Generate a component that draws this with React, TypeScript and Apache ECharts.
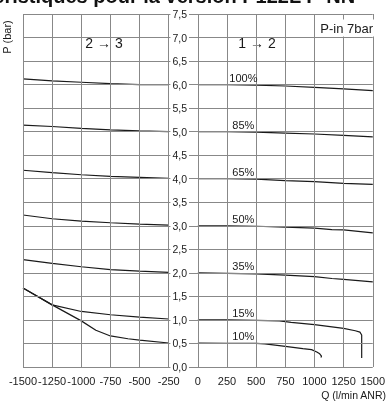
import { useEffect, useRef } from "react";
import * as echarts from "echarts";

const FONT = "'Liberation Sans', Arial, Helvetica, sans-serif";

// Tick positions of the two axes
const qTicks = [-1500, -1250, -1000, -750, -500, -250, 0, 250, 500, 750, 1000, 1250, 1500];
const pTicks = [0, 0.5, 1, 1.5, 2, 2.5, 3, 3.5, 4, 4.5, 5, 5.5, 6, 6.5, 7, 7.5];

// Opening levels of the regulator
const levels = ["100%", "85%", "65%", "50%", "35%", "15%", "10%"];

// Port 2→3 (exhaust side), Q in l/min ANR (negative), P in bar
const exhaust100 = [[-1500, 6.12], [-1250, 6.08], [-1000, 6.05], [-750, 6.02], [-500, 6.0], [-250, 6.0]];
const exhaust85 = [[-1500, 5.14], [-1250, 5.11], [-1000, 5.07], [-750, 5.04], [-500, 5.015], [-250, 5.0]];
const exhaust65 = [[-1500, 4.18], [-1250, 4.13], [-1000, 4.085], [-750, 4.05], [-500, 4.03], [-250, 4.01]];
const exhaust50 = [[-1500, 3.23], [-1250, 3.15], [-1000, 3.1], [-750, 3.065], [-500, 3.035], [-250, 3.015]];
const exhaust35 = [[-1500, 2.28], [-1250, 2.2], [-1000, 2.13], [-750, 2.07], [-500, 2.035], [-250, 2.01]];
const exhaust15 = [[-1500, 1.68], [-1250, 1.32], [-1000, 1.18], [-750, 1.11], [-500, 1.06], [-250, 1.02]];
const exhaust10 = [[-1500, 1.68], [-1250, 1.32], [-1000, 0.98], [-875, 0.78], [-750, 0.66], [-600, 0.6], [-500, 0.57], [-250, 0.51]];

// Port 1→2 (supply side), Q in l/min ANR, P in bar
const supply100 = [[0, 6.0], [250, 6.0], [500, 5.99], [750, 5.97], [1000, 5.94], [1250, 5.91], [1500, 5.87]];
const supply85 = [[0, 5.0], [250, 5.0], [500, 4.99], [750, 4.97], [1000, 4.95], [1250, 4.92], [1500, 4.89]];
const supply65 = [[0, 4.0], [250, 4.0], [500, 3.99], [750, 3.96], [1000, 3.94], [1250, 3.9], [1500, 3.88]];
const supply50 = [[0, 3.0], [250, 3.0], [500, 2.99], [750, 2.97], [1000, 2.95], [1150, 2.92], [1250, 2.915], [1500, 2.85]];
const supply35 = [[0, 2.0], [250, 1.99], [500, 1.98], [750, 1.95], [1000, 1.92], [1150, 1.88], [1250, 1.86], [1500, 1.81]];
const supply15 = [[0, 1.0], [250, 1.0], [500, 0.99], [700, 0.98], [800, 0.95], [1000, 0.9], [1250, 0.82], [1350, 0.77], [1390, 0.74], [1405, 0.68], [1405, 0.19]];
const supply10 = [[0, 0.51], [250, 0.505], [500, 0.5], [575, 0.49], [750, 0.44], [900, 0.39], [975, 0.37], [1020, 0.32], [1045, 0.28], [1060, 0.23], [1055, 0.2]];

const exhaustCurves = [exhaust100, exhaust85, exhaust65, exhaust50, exhaust35, exhaust15, exhaust10];
const supplyCurves = [supply100, supply85, supply65, supply50, supply35, supply15, supply10];

// Where the level labels sit along the supply curves
const labelQ = 390;

const GRID = "#888888";
const INK = "#1a1a1a";

// Plot box in pixels
const PLOT = { left: 23, right: 13, top: 14, bottom: 34 };
const PLOT_W = 388 - PLOT.left - PLOT.right;

export default function App() {
  const ref = useRef<HTMLDivElement>(null);

  useEffect(() => {
    if (!ref.current) return;
    const chart = echarts.init(ref.current, undefined, { renderer: "svg" });

    const series: any[] = [];

    // Grid lines drawn through the axes' scales
    series.push({
      name: "grid",
      type: "line",
      data: [[qTicks[0], pTicks[0]]],
      symbol: "none",
      lineStyle: { opacity: 0 },
      silent: true,
      z: 1,
      markLine: {
        silent: true,
        symbol: ["none", "none"],
        label: { show: false },
        lineStyle: { color: GRID, width: 1, type: "solid" },
        emphasis: { disabled: true },
        data: [
          ...qTicks.map((q) => ({ xAxis: q })),
          ...pTicks.map((p) => ({ yAxis: p })),
        ],
      },
    });

    exhaustCurves.forEach((data, i) => {
      series.push({
        name: "2→3 " + levels[i],
        type: "line",
        data,
        symbol: "none",
        z: 3,
        lineStyle: { color: INK, width: 1.2 },
      });
    });
    supplyCurves.forEach((data, i) => {
      series.push({
        name: "1→2 " + levels[i],
        type: "line",
        data,
        symbol: "none",
        z: 3,
        lineStyle: { color: INK, width: 1.2 },
        markPoint: {
          symbol: "rect",
          symbolSize: 0,
          silent: true,
          data: [{ coord: [labelQ, data[0][1] + 0.15], value: levels[i] }],
          label: {
            show: true,
            position: "inside",
            formatter: levels[i],
            color: INK,
            fontSize: 11,
            fontFamily: FONT,
          },
        },
      });
    });

    chart.setOption({
      animation: false,
      textStyle: { fontFamily: FONT },
      grid: { ...PLOT, containLabel: false },
      xAxis: {
        type: "value",
        min: -1500,
        max: 1500,
        interval: 250,
        axisLine: { show: false },
        axisTick: { show: false },
        splitLine: { show: false },
        axisLabel: {
          color: INK,
          fontSize: 11,
          fontFamily: FONT,
          margin: 8,
          showMinLabel: true,
          showMaxLabel: true,
          formatter: (v: number) => String(v),
        },
      },
      yAxis: {
        type: "value",
        min: 0,
        max: 7.5,
        interval: 0.5,
        z: 5,
        // the pressure scale sits on Q = 0, in the middle of the plot
        offset: -PLOT_W / 2,
        axisLine: { show: false, onZero: false },
        axisTick: { show: false },
        splitLine: { show: false },
        axisLabel: {
          color: INK,
          fontSize: 10.5,
          fontFamily: FONT,
          margin: 10,
          backgroundColor: "#ffffff",
          padding: [0, 2],
          formatter: (v: number) => v.toFixed(1).replace(".", ","),
        },
      },
      graphic: [
        {
          type: "text",
          x: -69,
          y: 6,
          style: {
            text: "Caractéristiques pour la version P122L P-NN",
            font: "bold 20px " + FONT,
            fill: "#111",
            textAlign: "left",
            textVerticalAlign: "bottom",
          },
        },
        {
          type: "text",
          x: 7,
          y: 37,
          rotation: Math.PI / 2,
          style: {
            text: "P (bar)",
            font: "11px " + FONT,
            fill: INK,
            textAlign: "center",
            textVerticalAlign: "middle",
          },
        },
        {
          type: "text",
          x: 386,
          y: 395,
          style: {
            text: "Q (l/min ANR)",
            font: "10.5px " + FONT,
            fill: INK,
            textAlign: "right",
            textVerticalAlign: "middle",
          },
        },
        {
          type: "text",
          x: 104,
          y: 43,
          style: {
            text: "2 → 3",
            font: "14px " + FONT,
            fill: INK,
            textAlign: "center",
            textVerticalAlign: "middle",
          },
        },
        {
          type: "text",
          x: 257,
          y: 43,
          style: {
            text: "1 → 2",
            font: "14px " + FONT,
            fill: INK,
            textAlign: "center",
            textVerticalAlign: "middle",
          },
        },
        {
          type: "text",
          x: 374,
          y: 28,
          z: 10,
          style: {
            text: "P-in 7bar",
            font: "13px " + FONT,
            fill: INK,
            textAlign: "right",
            textVerticalAlign: "middle",
            backgroundColor: "#ffffff",
            padding: [2, 1, 2, 3],
          },
        },
      ],
      series,
    });

    return () => chart.dispose();
  }, []);

  return (
    <div
      ref={ref}
      style={{ position: "fixed", left: 0, top: 0, width: 388, height: 401 }}
    />
  );
}
